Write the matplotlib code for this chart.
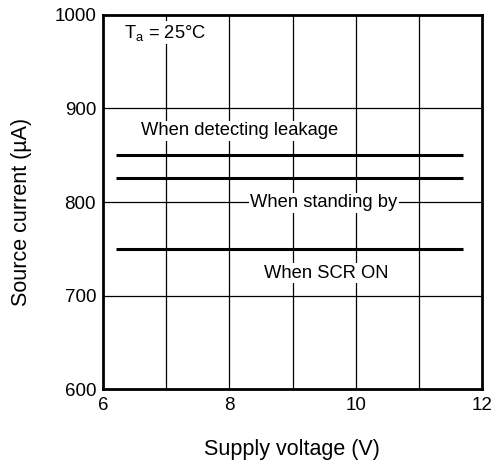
import matplotlib
matplotlib.use("Agg")
import matplotlib.pyplot as plt

plt.rcParams['font.family'] = ['Liberation Sans', 'DejaVu Sans']

series_names = ["When detecting leakage", "When standing by", "When SCR ON"]
x_range = [6.2, 11.7]
currents = [850, 826, 750]
x_ticks = [6, 8, 10, 12]
y_ticks = [600, 700, 800, 900, 1000]

fig = plt.figure(figsize=(5, 4.66), dpi=100)
ax = fig.add_axes([0.206, 0.165, 0.758, 0.803])
ax.set_xlim(6, 12)
ax.set_ylim(600, 1000)

for v in [7, 8, 9, 10, 11]:
    ax.axvline(v, color='black', lw=0.9, zorder=1)
for v in [700, 800, 900]:
    ax.axhline(v, color='black', lw=0.9, zorder=1)

for c in currents:
    ax.plot(x_range, [c, c], color='black', lw=2.2, zorder=3, solid_capstyle='butt')

bbox = dict(facecolor='white', edgecolor='none', pad=1)
fs = 13.2
ax.text(8.17, 876, series_names[0], ha='center', va='center', fontsize=fs, bbox=bbox, zorder=4)
ax.text(9.5, 799, series_names[1], ha='center', va='center', fontsize=fs, bbox=bbox, zorder=4)
ax.text(9.53, 724, series_names[2], ha='center', va='center', fontsize=fs, bbox=bbox, zorder=4)
ax.text(6.33, 981, r"T$_{\mathregular{a}}$ = 25°C", ha='left', va='center', fontsize=fs, bbox=bbox, zorder=4)

ax.set_xticks(x_ticks)
ax.set_yticks(y_ticks)
ax.tick_params(length=0, labelsize=13.5)
ax.tick_params(axis='x', pad=6)
ax.tick_params(axis='y', pad=5)
for s in ax.spines.values():
    s.set_linewidth(2)
ax.set_xlabel("Supply voltage (V)", fontsize=15.5, va='center')
ax.set_ylabel("Source current (µA)", fontsize=15.5, va='center')
ax.xaxis.set_label_coords(292 / 500, (466 - 450) / 466, transform=fig.transFigure)
ax.yaxis.set_label_coords(22 / 500, (466 - 212) / 466, transform=fig.transFigure)

fig.savefig("out.png", dpi=100)
